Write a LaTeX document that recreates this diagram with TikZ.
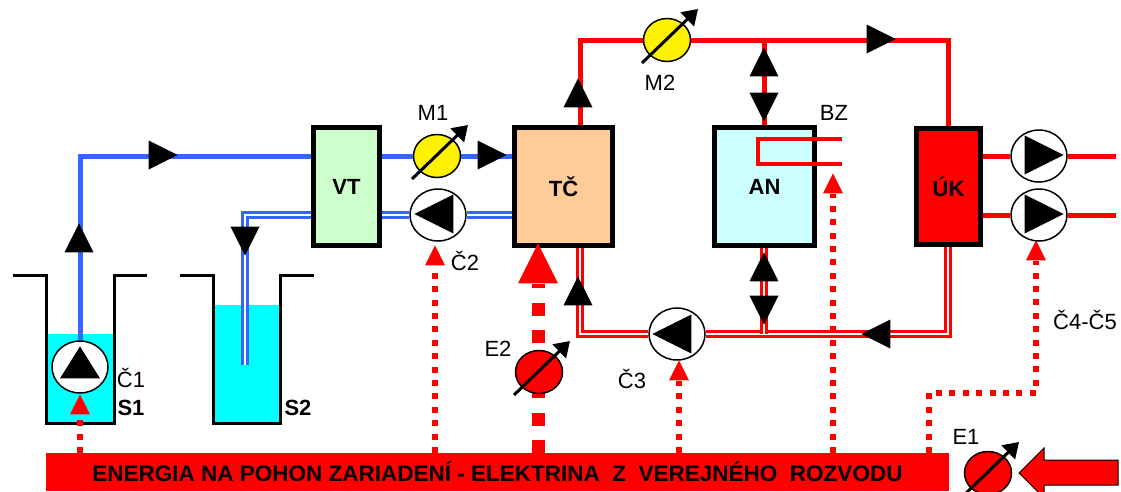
\documentclass[tikz,border=0pt]{standalone}
\usepackage{fontspec}
\setmainfont{Liberation Sans}
\usepackage{tikz}
\usetikzlibrary{arrows.meta,shapes.geometric}
\definecolor{pipeblue}{HTML}{3366FF}
\definecolor{watercyan}{HTML}{00FFFF}
\definecolor{vtgreen}{HTML}{CCFFCC}
\definecolor{tcorange}{HTML}{FFCC99}
\definecolor{ancyan}{HTML}{CCFFFF}
\tikzset{
    every node/.style={font=\fontsize{22}{24}\selectfont,inner sep=0pt},
    unitbox/.style={rectangle,draw=black,line width=5pt,font=\fontsize{22}{24}\selectfont\bfseries},
    tankline/.style={draw=black,line width=3pt},
    bluepipe/.style={draw=pipeblue,line width=5pt},
    bluedouble/.style={draw=pipeblue,line width=2.8pt,double=white,double distance=1.5pt},
    redpipe/.style={draw=red,line width=5pt},
    reddouble/.style={draw=red,line width=3pt,double=white,double distance=1.5pt},
    pump/.style={ellipse,draw=black,line width=1.5pt,fill=white,minimum width=56pt,minimum height=52pt},
    meter/.style={ellipse,draw=black,line width=1.5pt,minimum width=47pt,minimum height=43pt},
    gauge/.style={draw=black,line width=3pt,-{Triangle[length=15pt,width=19pt]}},
    flowtip/.style={isosceles triangle,isosceles triangle stretches,isosceles triangle apex angle=60,fill=black,minimum width=29pt,minimum height=29pt,anchor=apex},
    pumptip/.style={flowtip,minimum width=39pt,minimum height=39pt},
    feedtip/.style={flowtip,fill=red,minimum width=20pt,minimum height=20pt},
    feed/.style={draw=red,line width=6pt,dash pattern=on 6pt off 7.4pt},
    bigfeed/.style={draw=red,line width=13pt,dash pattern=on 13pt off 14.5pt},
    up/.style={shape border rotate=90},
    down/.style={shape border rotate=-90},
    leftward/.style={shape border rotate=180}
}
\begin{document}
\begin{tikzpicture}[x=1pt,y=-1pt]
    \useasboundingbox (0,0) rectangle (1121,491);
    \clip (0,0) rectangle (1121,491);
    % tanks
    \fill[watercyan] (46,334) rectangle (114,423);
    \fill[watercyan] (213,305) rectangle (280,423);
    \draw[tankline] (13,275) -- (46.5,275) -- (46.5,423) -- (114,423) -- (114,275) -- (147,275);
    \draw[tankline] (180,275) -- (213.5,275) -- (213.5,423) -- (280,423) -- (280,275) -- (314,275);
    % units
    \node[unitbox,fill=vtgreen,minimum width=66pt,minimum height=118pt] (vt) at (346.5,186.5) {VT};
    \node[unitbox,fill=tcorange,minimum width=98pt,minimum height=118pt] (tc) at (563.5,186.5) {TČ};
    \node[unitbox,fill=ancyan,minimum width=100pt,minimum height=118pt] (an) at (764.5,186.5) {AN};
    \node[unitbox,fill=red,minimum width=64pt,minimum height=116pt] (uk) at (948.5,186.5) {ÚK};
    \node[rectangle,fill=red,minimum width=903pt,minimum height=38pt,font=\fontsize{22.5}{24}\selectfont\bfseries] (bar) at (497.5,472) {ENERGIA NA POHON ZARIADENÍ - ELEKTRINA\ \ Z\ \ VEREJNÉHO\ \ ROZVODU};
    % pumps
    \node[pump] (c1) at (80,367) {};
    \node[pump] (c2) at (438,215) {};
    \node[pump] (c3) at (677,334) {};
    \node[pump] (c4) at (1039,156) {};
    \node[pump] (c5) at (1039,215) {};
    \node[meter,fill=yellow] (m1) at (437,156) {};
    \node[meter,fill=yellow] (m2) at (667,40) {};
    % pipe joints
    \coordinate (ja) at (80,156);
    \coordinate (jb) at (245,215);
    \coordinate (jc) at (245,365);
    \coordinate (jd) at (580,40);
    \coordinate (je) at (948,40);
    \coordinate (jf) at (764,40);
    \coordinate (jg) at (580,334);
    \coordinate (jh) at (948,334);
    \coordinate (ji) at (764,334);
    \coordinate (oa) at (1116,156);
    \coordinate (ob) at (1116,215);
    \coordinate (za) at (842,139);
    \coordinate (zb) at (758,139);
    \coordinate (zc) at (758,164);
    \coordinate (zd) at (842,164);
    % blue circuit
    \draw[bluepipe] (c1) -- (ja) -- (ja -| vt.west);
    \draw[bluepipe] (vt.east |- m1) -- (m1);
    \draw[bluepipe] (m1) -- (m1 -| tc.west);
    \draw[bluedouble] (vt.west |- jb) -- (jb) -- (jc);
    \draw[bluedouble] (vt.east |- c2) -- (c2);
    \draw[bluedouble] (c2) -- (c2 -| tc.west);
    % red circuit
    \draw[redpipe] (tc.north -| jd) -- (jd) -- (m2);
    \draw[redpipe] (m2) -- (je) -- (uk.north -| je);
    \draw[redpipe] (jf) -- (an.north -| jf);
    \draw[reddouble] (tc.south -| jg) -- (jg) -- (c3);
    \draw[reddouble] (c3) -- (jh) -- (uk.south -| jh);
    \draw[reddouble] (an.south -| ji) -- (ji);
    \draw[redpipe] (uk.east |- oa) -- (c4);
    \draw[redpipe] (uk.east |- ob) -- (c5);
    \draw[redpipe] (c4) -- (oa);
    \draw[redpipe] (c5) -- (ob);
    \draw[draw=red,line width=4pt] (za) -- (zb) -- (zc) -- (zd);
    % flow marks
    \node[flowtip,up] at (79,223) {};
    \node[flowtip] at (178,155) {};
    \node[flowtip,down] at (245,256) {};
    \node[flowtip] at (507,155) {};
    \node[flowtip,up] at (578,78) {};
    \node[flowtip] at (896,39) {};
    \node[flowtip,up] at (764,47) {};
    \node[flowtip,down] at (764,122) {};
    \node[flowtip,up] at (578,276) {};
    \node[flowtip,up] at (764,252) {};
    \node[flowtip,down] at (764,325) {};
    \node[flowtip,leftward] at (861,334) {};
    % pump marks
    \node[pumptip,up,minimum width=40pt,minimum height=32pt] at (80,346) {};
    \node[pumptip,leftward] at (414,214) {};
    \node[pumptip,leftward] at (652,334) {};
    \node[pumptip] at (1064,155) {};
    \node[pumptip] at (1064,214) {};
    % electric feeds
    \coordinate (fa) at (80,453);
    \coordinate (fb) at (435,453);
    \coordinate (fc) at (538,453);
    \coordinate (fd) at (679,453);
    \coordinate (fe) at (833,453);
    \coordinate (ff) at (929,453);
    \coordinate (fg) at (929,393);
    \coordinate (fh) at (1036,393);
    \node[feedtip,up] (ta) at (80,394) {};
    \node[feedtip,up] (tb) at (435,245) {};
    \node[feedtip,up,minimum width=40pt,minimum height=40pt] (tc2) at (538,243) {};
    \node[feedtip,up] (td) at (679,360) {};
    \node[feedtip,up] (te) at (833,173) {};
    \node[feedtip,up] (tf) at (1036,240) {};
    \draw[feed] (fa) -- (ta);
    \draw[feed] (fb) -- (tb);
    \draw[bigfeed] (fc) -- (tc2);
    \draw[feed] (fd) -- (td);
    \draw[feed] (fe) -- (te);
    \draw[feed] (ff) -- (fg) -- (fh) -- (tf);
    % meters on the electric side
    \node[meter,fill=red] (e2) at (539,372) {};
    \node[meter,fill=red] (e1) at (988,473) {};
    \foreach \m in {m1,m2,e2,e1}
        \draw[gauge] ([shift={(-25,23)}]\m.center) -- ([shift={(31,-31)}]\m.center);
    \draw[draw=black,line width=1pt,fill=red] (1019,473) -- (1044,448) -- (1044,460) -- (1118,460) -- (1118,485) -- (1044,485) -- (1044,498) -- cycle;
    % labels
    \node (lm1) at (433,113) {M1};
    \node (lc2) at (465,261) {Č2};
    \node (lm2) at (660,83) {M2};
    \node (lbz) at (834,113) {BZ};
    \node (lc3) at (632,379) {Č3};
    \node (le2) at (498,349) {E2};
    \node (le1) at (966,437) {E1};
    \node (lc1) at (131,378) {Č1};
    \node[font=\fontsize{22}{24}\selectfont\bfseries] (ls1) at (131,408) {S1};
    \node[font=\fontsize{22}{24}\selectfont\bfseries] (ls2) at (298,408) {S2};
    \node (lc45) at (1085,320) {Č4-Č5};
\end{tikzpicture}
\end{document}
